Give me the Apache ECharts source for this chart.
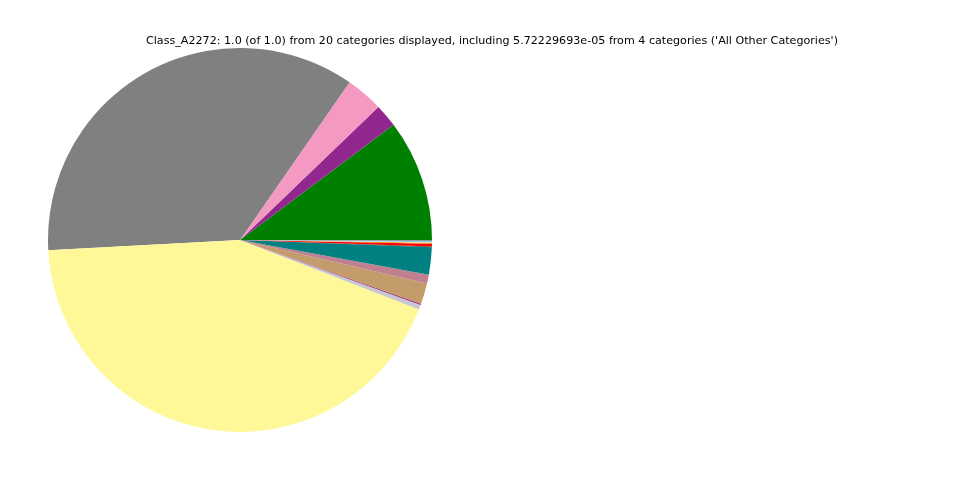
<!DOCTYPE html>
<html>
<head>
<meta charset="utf-8">
<script src="https://cdn.jsdelivr.net/npm/echarts@6/dist/echarts.min.js"></script>
<style>
html,body{margin:0;padding:0;background:#fff;}
#chart{width:960px;height:480px;}
</style>
</head>
<body>
<div id="chart"></div>
<script>
const titleText = "Class_A2272: 1.0 (of 1.0) from 20 categories displayed, including 5.72229693e-05 from 4 categories ('All Other Categories')";
const categories = [
  "Cat 1", "Cat 2", "Cat 3", "Cat 4", "Cat 5", "Cat 6", "Cat 7", "Cat 8", "Cat 9", "Cat 10",
  "Cat 11", "Cat 12", "Cat 13", "Cat 14", "Cat 15", "Cat 16", "Cat 17", "Cat 18", "Cat 19", "All Other Categories"
];
const values = [
  0.1025, 0.0194, 0.0314, 0.3550, 0.4325, 0.0040, 0.0011, 0.0175, 0.0075, 0.0228,
  0.0008, 0.0022, 0.0008, 0.0005, 0.0011, 0.0004, 0.0001, 0.00008, 0.00005, 0.0000572
];
const colors = [
  "#008000", "#92278f", "#f49ac2", "#808080", "#fff899", "#c8c8d2", "#a0307f", "#c49c6c", "#c08090", "#008080",
  "#2f4f4f", "#ff0000", "#ff8000", "#e8e8e8", "#80d0e0", "#6a9a9a", "#000080", "#ffd700", "#800000", "#4060c0"
];

const chart = echarts.init(document.getElementById('chart'), null, {renderer: 'canvas'});
chart.setOption({
  animation: false,
  backgroundColor: '#ffffff',
  title: {
    text: titleText,
    left: 141,
    top: 31,
    textStyle: {fontFamily: 'DejaVu Sans', fontSize: 11.13, fontWeight: 'normal', color: '#000'}
  },
  series: [{
    type: 'pie',
    center: [240, 240],
    radius: 192,
    startAngle: 0,
    clockwise: false,
    minAngle: 0,
    avoidLabelOverlap: false,
    label: {show: false},
    labelLine: {show: false},
    emphasis: {disabled: true},
    itemStyle: {borderWidth: 0},
    data: categories.map((c, i) => ({name: c, value: values[i], itemStyle: {color: colors[i]}}))
  }]
});
</script>
</body>
</html>
